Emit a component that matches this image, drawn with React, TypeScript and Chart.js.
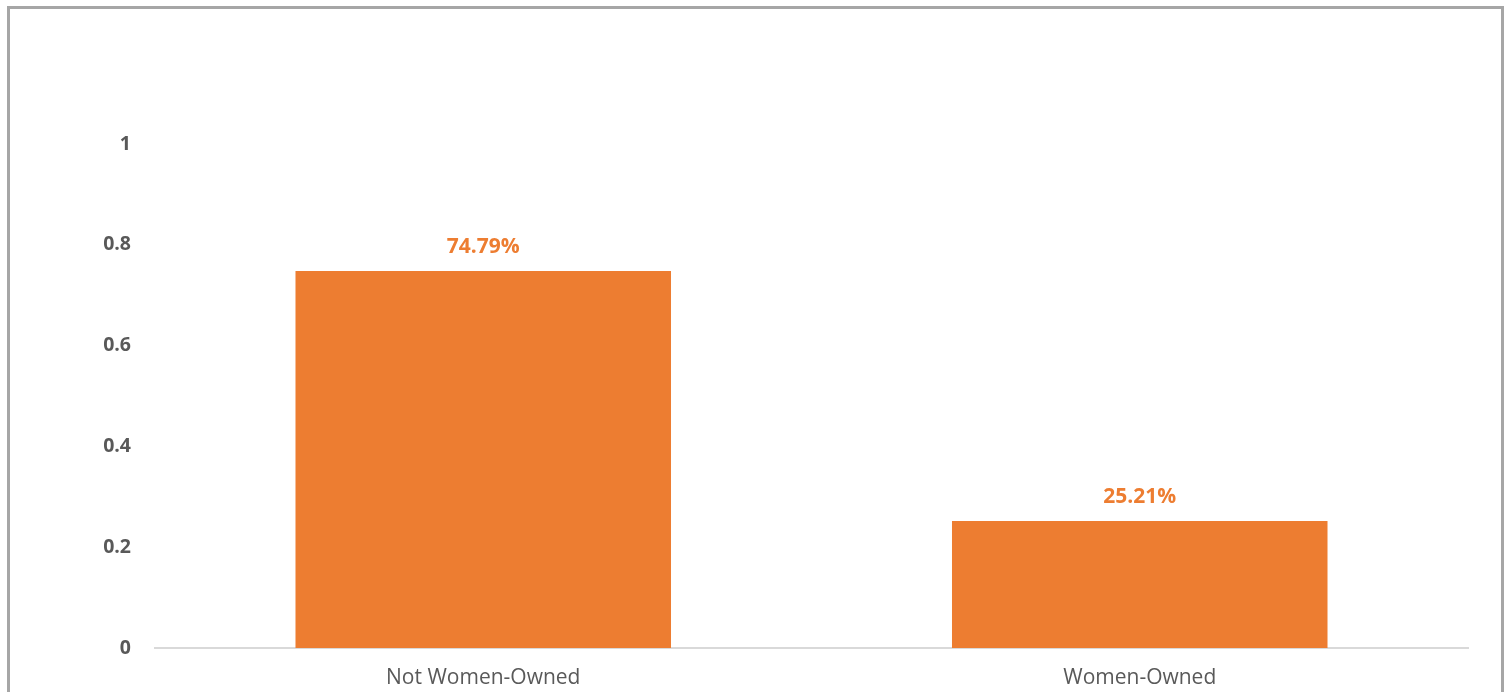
import React, { useEffect, useRef } from "react";
import { Chart, registerables } from "chart.js";

Chart.register(...registerables);

const categories = ["Not Women-Owned", "Women-Owned"];
const shares = [0.7479, 0.2521];
const shareLabels = ["74.79%", "25.21%"];
const yTicks = [0, 0.2, 0.4, 0.6, 0.8, 1];

const ORANGE = "#ED7D31";
const TEXT = "#595959";
const FONT = "'Open Sans', sans-serif";

const valueLabels = {
  id: "valueLabels",
  afterDatasetsDraw(chart: Chart) {
    const ctx = chart.ctx;
    const meta = chart.getDatasetMeta(0);
    ctx.save();
    ctx.fillStyle = ORANGE;
    ctx.font = `bold 21px ${FONT}`;
    ctx.textAlign = "center";
    ctx.textBaseline = "middle";
    meta.data.forEach((bar: any, i: number) => {
      ctx.fillText(shareLabels[i], bar.x, bar.y - 24);
    });
    ctx.restore();
  },
};

export default function App() {
  const canvasRef = useRef<HTMLCanvasElement | null>(null);

  useEffect(() => {
    document.body.style.margin = "0";
    const canvas = canvasRef.current;
    if (!canvas) return;
    const chart = new Chart(canvas, {
      type: "bar",
      data: {
        labels: categories,
        datasets: [
          {
            data: shares,
            backgroundColor: ORANGE,
            borderWidth: 0,
            categoryPercentage: 1,
            barPercentage: 0.572,
          },
        ],
      },
      options: {
        animation: false,
        responsive: false,
        maintainAspectRatio: false,
        layout: { padding: { top: 144, right: 43, left: 0, bottom: 0 } },
        plugins: {
          legend: { display: false },
          tooltip: { enabled: false },
        },
        scales: {
          x: {
            grid: { display: false, drawTicks: false },
            border: { display: true, color: "#D9D9D9", width: 2 },
            ticks: {
              color: TEXT,
              font: { family: FONT, size: 21 },
              padding: 17,
            },
            afterFit(scale: any) {
              scale.height = 44;
            },
          },
          y: {
            min: 0,
            max: 1,
            grid: { display: false, drawTicks: false },
            border: { display: false },
            afterBuildTicks(scale: any) {
              scale.ticks = yTicks.map((v) => ({ value: v }));
            },
            ticks: {
              color: TEXT,
              font: { family: FONT, size: 19.5, weight: "bold" },
              padding: 24,
              callback: (v: any) => String(v),
            },
            afterFit(scale: any) {
              scale.width = 155;
            },
          },
        },
      },
      plugins: [valueLabels],
    });
    return () => chart.destroy();
  }, []);

  return (
    <div style={{ position: "relative", width: 1511, height: 692, overflow: "hidden", background: "#fff" }}>
      <canvas
        ref={canvasRef}
        width={1511}
        height={692}
        style={{ position: "absolute", left: 0, top: 0, width: 1511, height: 692 }}
      />
      <div
        style={{
          position: "absolute",
          left: 7,
          top: 6,
          width: 1491,
          height: 700,
          border: "3px solid #A6A6A6",
          pointerEvents: "none",
        }}
      />
    </div>
  );
}
